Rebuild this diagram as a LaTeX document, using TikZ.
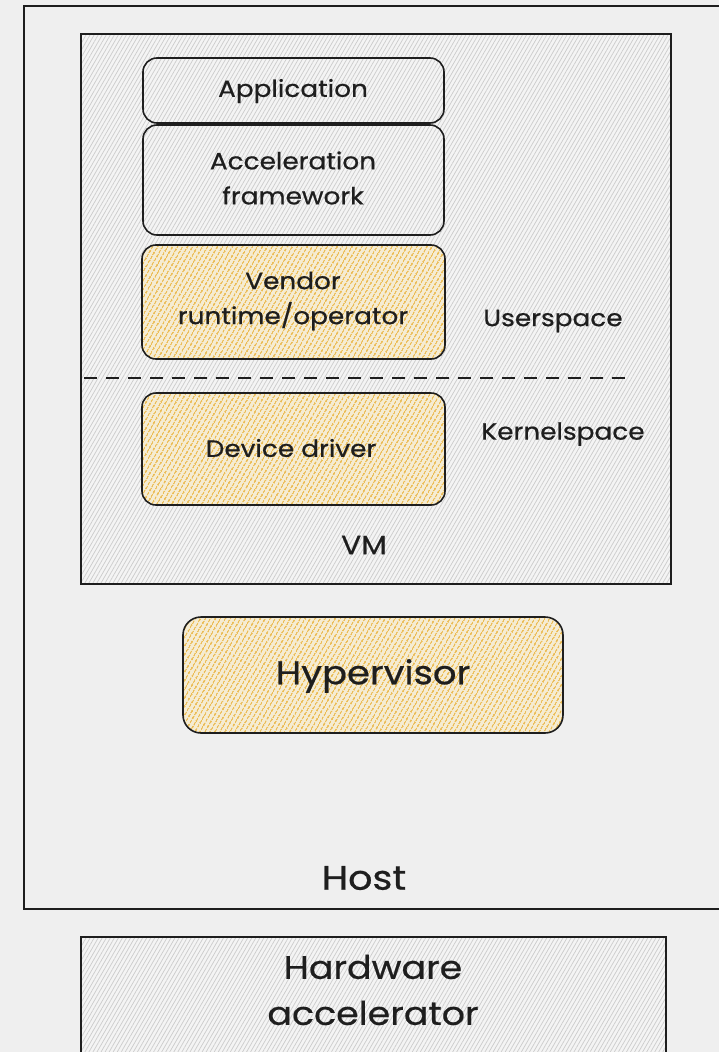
\documentclass[tikz,border=0pt]{standalone}
\usepackage{fontspec}
\setmainfont{Poppins}[FakeStretch=1.12, FakeBold=0.6]
\usetikzlibrary{patterns.meta}
\definecolor{bgc}{HTML}{EFEFEF}
\definecolor{ink}{HTML}{1E1E1E}
\definecolor{greybase}{HTML}{F4F4F4}
\definecolor{greyhatch}{HTML}{CDCDCD}
\definecolor{yelbase}{HTML}{F5ECD3}
\definecolor{yelhatch}{HTML}{EBBD58}

\tikzset{
  greyfill/.style={preaction={fill=greybase},
    pattern={Lines[angle=60,distance=3.5pt,line width=0.75pt]}, pattern color=greyhatch},
  yelfill/.style={preaction={fill=yelbase},
    pattern={Lines[angle=60,distance=4pt,line width=1.6pt]}, pattern color=yelhatch},
  frame/.style={draw=ink, line width=1.6pt},
  layer/.style={frame, rounded corners=14pt},
  lbl/.style={text=ink, font=\fontsize{23.5}{35}\selectfont, align=center},
  biglbl/.style={text=ink, font=\fontsize{31}{46}\selectfont, align=center},
}

\begin{document}
\begin{tikzpicture}[x=1pt,y=-1pt]
\useasboundingbox (0,0) rectangle (719,1052);
\clip (0,0) rectangle (719,1052);
\fill[bgc] (0,0) rectangle (719,1052);

% host frame (right side runs off the page)
\draw[frame] (24,6) rectangle (740,909);

% virtual machine
\draw[frame, greyfill] (81,34) rectangle (671,584);

% software stack inside the VM
\draw[layer, greyfill] (143,58) rectangle (444,123);
\draw[layer, greyfill] (143,125) rectangle (444,235);
\draw[layer, yelfill] (142,245) rectangle (445,359);
\draw[layer, yelfill] (142,393) rectangle (445,505);

\node[lbl] (app) at (293,91) {Application};
\node[lbl] (accel) at (293,178) {Acceleration\\framework};
\node[lbl] (vendor) at (293,301) {Vendor\\runtime/operator};
\node[lbl] (driver) at (291,448) {Device driver};

% user/kernel boundary
\coordinate (splitL) at (84,378);
\coordinate (splitR) at (633,378);
\draw[ink, line width=1.3pt, dash pattern=on 13pt off 9pt] (splitL) -- (splitR);

\node[lbl] (user) at (553,321) {Userspace};
\node[lbl] (kernel) at (563,434) {Kernelspace};
\node[lbl, font=\fontsize{26.5}{30}\selectfont] (vm) at (364,545) {VM};

% hypervisor
\draw[frame, yelfill, rounded corners=18pt] (183,617) rectangle (563,733);
\node[biglbl, font=\fontsize{33}{40}\selectfont] (hyp) at (373,676) {Hypervisor};

\node[biglbl, font=\fontsize{34}{40}\selectfont] (host) at (364,878) {Host};

% hardware accelerator (bottom runs off the page)
\draw[frame, greyfill] (81,937) rectangle (666,1080);
\node[biglbl, font=\fontsize{32.5}{46}\selectfont] (hw) at (373,990) {Hardware\\accelerator};
\end{tikzpicture}
\end{document}
